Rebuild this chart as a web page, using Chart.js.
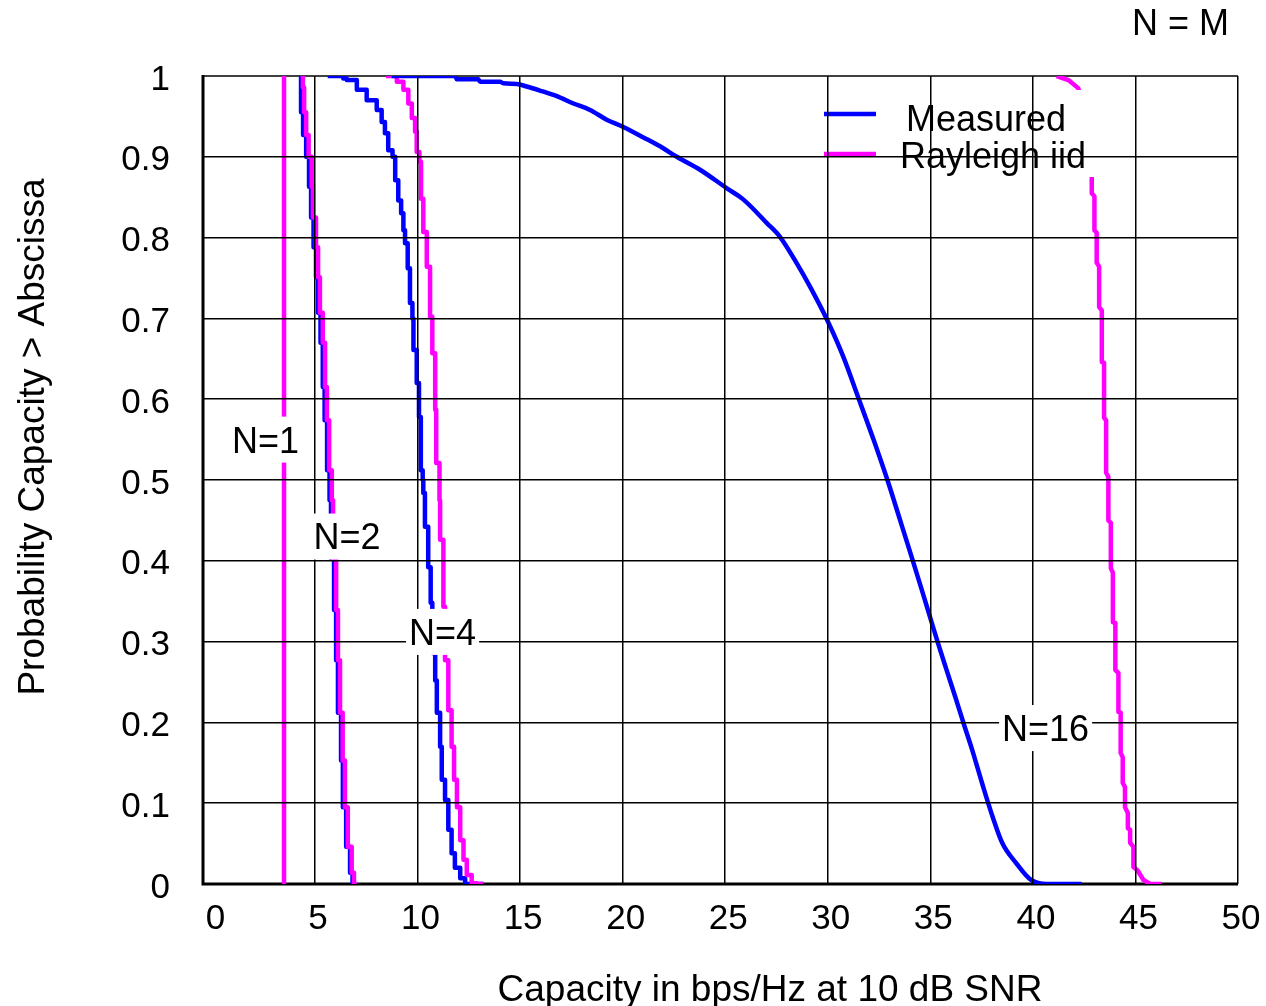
<!DOCTYPE html>
<html>
<head>
<meta charset="utf-8">
<script src="https://cdn.jsdelivr.net/npm/chart.js@4.4.1/dist/chart.umd.min.js"></script>
<style>
  body { margin: 0; background: #fff; }
  canvas { display: block; }
</style>
</head>
<body>
<canvas id="capacityChart" width="1266" height="1006"></canvas>
<script>
// x tick labels (the plot frame starts a little left of 0)
const xTicks = [0, 5, 10, 15, 20, 25, 30, 35, 40, 45, 50];
const xMin = -0.46;
const xMax = 50;

// N = 1, Rayleigh iid (vertical line)
const rayleigh1X = [3.49, 3.49];
const rayleigh1Y = [1.0, 0];

// N = 2
const measured2X = [4.32, 4.42, 4.57, 4.71, 4.81, 4.93, 5.05, 5.15, 5.27, 5.38, 5.47, 5.59, 5.71, 5.78, 5.93, 6.03, 6.12, 6.27, 6.36, 6.52, 6.71, 6.83, 6.95];
const measured2Y = [1.0, 0.955, 0.927, 0.9, 0.863, 0.825, 0.788, 0.751, 0.707, 0.67, 0.615, 0.574, 0.512, 0.475, 0.403, 0.339, 0.277, 0.212, 0.153, 0.095, 0.046, 0.014, 0];
const rayleigh2X = [4.41, 4.47, 4.57, 4.69, 4.84, 4.90, 5.05, 5.15, 5.24, 5.38, 5.49, 5.58, 5.69, 5.82, 5.88, 6.03, 6.12, 6.22, 6.35, 6.46, 6.60, 6.79, 6.90, 7.04];
const rayleigh2Y = [1.0, 0.986, 0.955, 0.927, 0.900, 0.863, 0.825, 0.788, 0.751, 0.707, 0.670, 0.615, 0.574, 0.512, 0.475, 0.403, 0.339, 0.277, 0.212, 0.153, 0.095, 0.046, 0.014, 0];

// N = 4
const measured4X = [5.62, 6.38, 6.55, 7.04, 7.52, 8.01, 8.25, 8.41, 8.57, 8.78, 8.91, 9.06, 9.20, 9.31, 9.39, 9.52, 9.63, 9.75, 9.80, 9.96, 10.07, 10.16, 10.25, 10.28, 10.36, 10.52, 10.64, 10.72, 10.86, 10.94, 11.10, 11.18, 11.34, 11.50, 11.66, 11.82, 12.08, 12.32, 12.64, 13.21];
const measured4Y = [1.0, 1.0, 0.997, 0.995, 0.983, 0.970, 0.958, 0.943, 0.929, 0.908, 0.900, 0.871, 0.846, 0.830, 0.809, 0.793, 0.762, 0.719, 0.700, 0.661, 0.620, 0.578, 0.512, 0.500, 0.484, 0.442, 0.392, 0.348, 0.286, 0.252, 0.212, 0.170, 0.129, 0.104, 0.067, 0.038, 0.020, 0.007, 0, 0];
const rayleigh4X = [8.46, 8.99, 9.31, 9.55, 9.72, 9.88, 9.96, 10.09, 10.17, 10.28, 10.45, 10.61, 10.72, 10.86, 10.91, 11.07, 11.10, 11.26, 11.34, 11.50, 11.66, 11.78, 11.92, 12.08, 12.24, 12.40, 12.64, 12.88, 13.21];
const rayleigh4Y = [1.0, 1.0, 0.993, 0.983, 0.966, 0.948, 0.931, 0.906, 0.894, 0.848, 0.807, 0.764, 0.702, 0.657, 0.587, 0.521, 0.475, 0.426, 0.343, 0.277, 0.215, 0.170, 0.129, 0.095, 0.054, 0.030, 0.011, 0.001, 0];

// N = 16
const measured16X = [8.74, 11.83, 11.91, 12.96, 13.05, 14.02, 14.18, 14.84, 15.32, 15.97, 16.79, 17.60, 18.41, 19.22, 20.03, 21.01, 21.82, 22.64, 23.77, 25.08, 25.89, 27.03, 27.67, 28.49, 29.14, 29.97, 30.75, 31.53, 32.23, 32.92, 33.53, 34.16, 34.74, 35.35, 35.79, 36.21, 36.62, 37.04, 37.52, 38.04, 38.52, 39.18, 39.91, 40.68, 42.38];
const measured16Y = [1.0, 1.0, 0.996, 0.996, 0.993, 0.993, 0.991, 0.990, 0.987, 0.982, 0.975, 0.966, 0.958, 0.946, 0.937, 0.924, 0.913, 0.900, 0.884, 0.861, 0.847, 0.818, 0.801, 0.768, 0.739, 0.698, 0.653, 0.599, 0.550, 0.499, 0.450, 0.399, 0.351, 0.300, 0.265, 0.232, 0.199, 0.166, 0.125, 0.083, 0.050, 0.026, 0.005, 0, 0];
const rayleigh16X = [41.16, 41.73, 42.21, 42.50, 42.69, 42.87, 42.87, 43.00, 43.00, 43.11, 43.11, 43.23, 43.23, 43.36, 43.36, 43.47, 43.47, 43.57, 43.57, 43.68, 43.68, 43.80, 43.80, 43.90, 43.90, 44.02, 44.02, 44.17, 44.17, 44.28, 44.28, 44.38, 44.38, 44.49, 44.49, 44.63, 44.63, 44.74, 44.74, 44.90, 44.90, 45.10, 45.39, 45.72, 46.28];
const rayleigh16Y = [1.0, 0.995, 0.985, 0.958, 0.921, 0.875, 0.855, 0.851, 0.809, 0.806, 0.769, 0.764, 0.714, 0.710, 0.646, 0.645, 0.577, 0.574, 0.509, 0.504, 0.450, 0.447, 0.391, 0.385, 0.324, 0.323, 0.265, 0.261, 0.213, 0.212, 0.162, 0.157, 0.125, 0.120, 0.095, 0.088, 0.069, 0.067, 0.051, 0.046, 0.021, 0.017, 0.005, 0, 0];

// curve labels: text, x, y (data units)
const curveLabels = [
    ['N=1', 2.59, 0.55],
    ['N=2', 6.56, 0.43],
    ['N=4', 11.22, 0.312],
    ['N=16', 40.62, 0.193]
];

const legendNames = ['Measured', 'Rayleigh iid'];

const BLUE = '#0000ff';
const MAGENTA = '#ff00ff';
const FONT = '"Liberation Sans", Arial, sans-serif';

function toPoints(xs, ys) {
    return xs.map((x, i) => ({ x: x, y: ys[i] }));
}

function curve(xs, ys, color, stepped) {
    return {
        data: toPoints(xs, ys),
        borderColor: color,
        backgroundColor: color,
        borderWidth: 4.5,
        pointRadius: 0,
        showLine: true,
        fill: false,
        tension: 0,
        stepped: stepped ? 'after' : false,
        borderJoinStyle: 'round'
    };
}

// frame under the curves, legend box, then the labelled text boxes on top
const overlayPlugin = {
    id: 'overlay',
    beforeDatasetsDraw(chart) {
        const { ctx, chartArea } = chart;
        ctx.save();
        ctx.strokeStyle = '#000';
        ctx.lineWidth = 1.5;
        ctx.beginPath();
        ctx.moveTo(chartArea.left, chartArea.top);
        ctx.lineTo(chartArea.right, chartArea.top);
        ctx.stroke();
        ctx.lineWidth = 3;
        ctx.beginPath();
        ctx.moveTo(chartArea.left, chartArea.top - 1);
        ctx.lineTo(chartArea.left, chartArea.bottom);
        ctx.lineTo(chartArea.right, chartArea.bottom);
        ctx.stroke();
        ctx.restore();
    },
    afterDatasetsDraw(chart) {
        const ctx = chart.ctx;
        ctx.save();
        // white legend box, grid lines go over it
        ctx.fillStyle = '#fff';
        ctx.fillRect(822, 90, 275, 87);
        ctx.lineWidth = 4.5;
        ctx.strokeStyle = BLUE;
        ctx.beginPath(); ctx.moveTo(824, 114); ctx.lineTo(876, 114); ctx.stroke();
        ctx.strokeStyle = MAGENTA;
        ctx.beginPath(); ctx.moveTo(824, 154); ctx.lineTo(876, 154); ctx.stroke();
        ctx.fillStyle = '#000';
        ctx.font = '36px ' + FONT;
        ctx.textAlign = 'left';
        ctx.textBaseline = 'middle';
        ctx.fillText(legendNames[0], 906, 121);
        ctx.fillText(legendNames[1], 900, 158);
        ctx.restore();
    },
    afterDraw(chart) {
        const ctx = chart.ctx;
        const xs = chart.scales.x, ys = chart.scales.y;
        ctx.save();
        ctx.font = '36px ' + FONT;
        ctx.textAlign = 'center';
        ctx.textBaseline = 'middle';
        curveLabels.forEach(function (lab) {
            const px = xs.getPixelForValue(lab[1]);
            const py = ys.getPixelForValue(lab[2]);
            const w = ctx.measureText(lab[0]).width + 6;
            ctx.fillStyle = '#fff';
            ctx.fillRect(px - w / 2, py - 23, w, 46);
            ctx.fillStyle = '#000';
            ctx.fillText(lab[0], px, py + 3);
        });

        // axis titles
        ctx.font = '37px ' + FONT;
        ctx.fillText('Capacity in bps/Hz at 10 dB SNR', 770, 991);
        ctx.save();
        ctx.translate(34, 437);
        ctx.rotate(-Math.PI / 2);
        ctx.fillText('Probability Capacity > Abscissa', 0, 0);
        ctx.restore();

        ctx.font = '36px ' + FONT;
        ctx.textAlign = 'right';
        ctx.fillText('N = M', 1229, 25);
        ctx.restore();
    }
};

const capacityChart = new Chart(document.getElementById('capacityChart'), {
    type: 'scatter',
    data: {
        // first dataset is drawn on top
        datasets: [
            curve(rayleigh16X, rayleigh16Y, MAGENTA, false),
            Object.assign(curve(measured16X, measured16Y, BLUE, false), { cubicInterpolationMode: 'monotone' }),
            curve(rayleigh1X, rayleigh1Y, MAGENTA, false),
            curve(rayleigh2X, rayleigh2Y, MAGENTA, true),
            curve(rayleigh4X, rayleigh4Y, MAGENTA, true),
            curve(measured2X, measured2Y, BLUE, true),
            curve(measured4X, measured4Y, BLUE, true)
        ]
    },
    options: {
        responsive: false,
        animation: false,
        layout: { padding: { top: 76, right: 28, left: 0, bottom: 0 } },
        plugins: {
            legend: { display: false },
            tooltip: { enabled: false }
        },
        scales: {
            x: {
                type: 'linear',
                min: xMin,
                max: xMax,
                afterFit: function (scale) {
                    scale.height = 122;
                    scale.paddingLeft = 0;
                    scale.paddingRight = 0;
                },
                afterBuildTicks: function (scale) {
                    scale.ticks = xTicks.map(v => ({ value: v }));
                },
                ticks: {
                    color: '#000',
                    padding: 14,
                    labelOffset: 3,
                    maxRotation: 0,
                    autoSkip: false,
                    font: { family: FONT, size: 35 }
                },
                grid: {
                    z: 1,
                    lineWidth: 1.5,
                    drawTicks: false,
                    color: (ctx) => (ctx.tick && ctx.tick.value === 0) ? 'rgba(0,0,0,0)' : '#000'
                },
                border: { display: false }
            },
            y: {
                min: 0,
                max: 1,
                afterFit: function (scale) {
                    scale.width = 203;
                    scale.paddingTop = 0;
                    scale.paddingBottom = 0;
                },
                ticks: {
                    stepSize: 0.1,
                    color: '#000',
                    padding: 33,
                    labelOffset: 4,
                    font: { family: FONT, size: 35 },
                    callback: (value) => +value.toFixed(1)
                },
                grid: {
                    z: 1,
                    lineWidth: 1.5,
                    drawTicks: false,
                    color: (ctx) => (ctx.tick && (ctx.tick.value === 1 || ctx.tick.value === 0)) ? 'rgba(0,0,0,0)' : '#000'
                },
                border: { display: false }
            }
        }
    },
    plugins: [overlayPlugin]
});
</script>
</body>
</html>
